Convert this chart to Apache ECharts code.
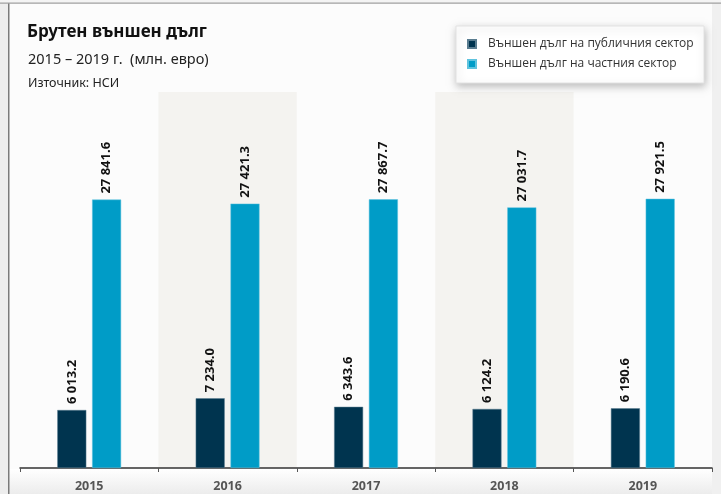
<!DOCTYPE html>
<html>
<head>
<meta charset="utf-8">
<script src="https://cdn.jsdelivr.net/npm/echarts@6/dist/echarts.min.js"></script>
<style>
html,body{margin:0;padding:0;background:#fff;}
#c{width:721px;height:494px;}
</style>
</head>
<body>
<div id="c"></div>
<script>
const categories = ['2015', '2016', '2017', '2018', '2019'];
const publicDebt = [6013.2, 7234.0, 6343.6, 6124.2, 6190.6];
const privateDebt = [27841.6, 27421.3, 27867.7, 27031.7, 27921.5];
const seriesNames = ['Външен дълг на публичния сектор', 'Външен дълг на частния сектор'];
const titleText = 'Брутен външен дълг';
const subtitleText = '2015 – 2019 г.  (млн. евро)';
const sourceText = 'Източник: НСИ';

function fmt(v) {
  const s = v.toFixed(1);
  const parts = s.split('.');
  const int = parts[0].replace(/\B(?=(\d{3})+(?!\d))/g, ' ');
  return int + '.' + parts[1];
}

const chart = echarts.init(document.getElementById('c'));
const labelCfg = {
  show: true,
  position: 'top',
  rotate: 90,
  align: 'left',
  verticalAlign: 'middle',
  distance: 6,
  color: '#111',
  fontFamily: 'Open Sans',
  fontWeight: 'bold',
  fontSize: 13,
  formatter: p => fmt(p.value)
};
chart.setOption({
  animation: false,
  textStyle: { fontFamily: 'Open Sans' },
  graphic: [
    { type: 'rect', z: -10, shape: { x: 0, y: 0, width: 721, height: 494 }, style: { fill: '#fcfcfc' } },
    { type: 'rect', z: -9, shape: { x: 0, y: 0, width: 8, height: 494 }, style: { fill: '#ededed' } },
    { type: 'rect', z: -9, shape: { x: 712, y: 0, width: 9, height: 494 }, style: { fill: '#f0f0f0' } },
    { type: 'rect', z: -9, shape: { x: 0, y: 0, width: 721, height: 3 }, style: { fill: '#f4f4f4' } },
    { type: 'rect', z: -9, shape: { x: 9, y: 469, width: 703, height: 25 },
      style: { fill: new echarts.graphic.LinearGradient(0, 0, 0, 1, [{ offset: 0, color: '#ffffff' }, { offset: 1, color: '#ececec' }]) } },
    { type: 'rect', z: -8, shape: { x: 8, y: 3, width: 1.5, height: 491 }, style: { fill: '#7a7a7a' } },
    { type: 'rect', z: -8, shape: { x: 0, y: 2.5, width: 721, height: 1.2 }, style: { fill: '#a0a0a0' } },
    { type: 'text', z: 5, left: 27, top: 24, style: { text: titleText, fontFamily: 'Noto Sans', fontWeight: 'bold', fontSize: 17, fill: '#111' } },
    { type: 'text', z: 5, left: 28, top: 52, style: { text: subtitleText, fontFamily: 'Noto Sans', fontSize: 14.5, fill: '#222' } },
    { type: 'text', z: 5, left: 28, top: 77, style: { text: sourceText, fontFamily: 'Noto Sans', fontSize: 12.5, fill: '#222' } },
    { type: 'rect', z: 3, shape: { x: 456, y: 26, width: 248, height: 57 },
      style: { fill: '#ffffff', stroke: '#e2e2e2', lineWidth: 1, shadowBlur: 8, shadowOffsetX: 1, shadowOffsetY: 3, shadowColor: 'rgba(0,0,0,0.25)' } }
  ],
  legend: {
    z: 6,
    orient: 'vertical',
    left: 467,
    top: 37,
    itemWidth: 8,
    itemHeight: 8,
    itemGap: 6,
    icon: 'rect',
    padding: [0, 0, 0, 0],
    textStyle: { fontFamily: 'Open Sans', fontSize: 12, color: '#333', lineHeight: 14, padding: [0, 0, 0, 7] },
    data: seriesNames
  },
  grid: { left: 20, right: 9, top: 92, bottom: 26 },
  xAxis: {
    type: 'category',
    data: categories,
    axisLine: { lineStyle: { color: '#333', width: 1.5 } },
    axisTick: { show: true, length: 4, lineStyle: { color: '#555' } },
    axisLabel: { margin: 12, color: '#555', fontFamily: 'Open Sans', fontWeight: 'bold', fontSize: 12.5 },
    splitArea: { show: true, areaStyle: { color: ['rgba(255,255,255,0)', '#f4f3f0'] } }
  },
  yAxis: {
    type: 'value',
    min: 0,
    max: 39000,
    show: false,
    splitLine: { show: false }
  },
  series: [
    { name: seriesNames[0], type: 'bar', data: publicDebt, barWidth: 29, barGap: '20%',
      itemStyle: { color: '#00344f', borderColor: '#5a7d90', borderWidth: 0.5 }, label: labelCfg },
    { name: seriesNames[1], type: 'bar', data: privateDebt, barWidth: 29,
      itemStyle: { color: '#009cc7', borderColor: '#5fc3de', borderWidth: 0.5 }, label: labelCfg }
  ]
});
</script>
</body>
</html>
